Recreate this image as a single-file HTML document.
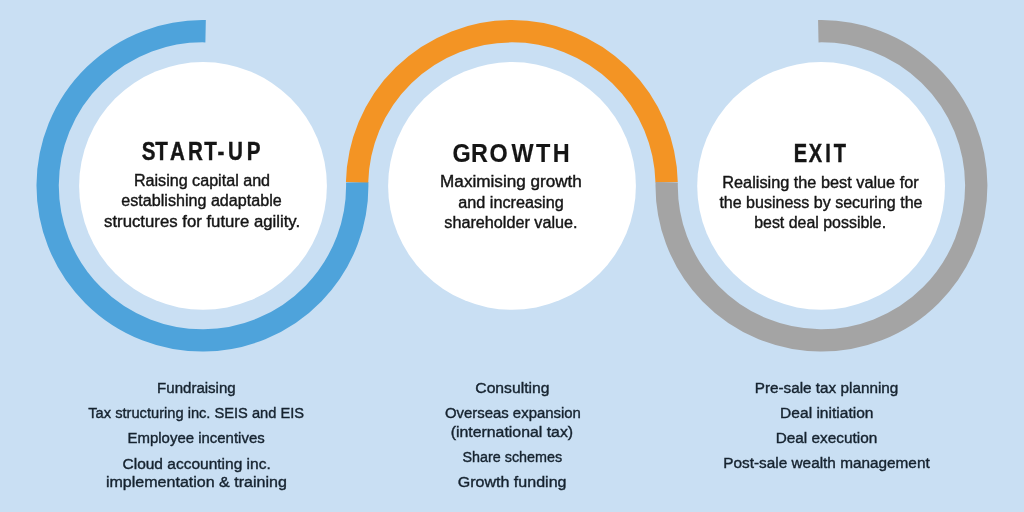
<!DOCTYPE html>
<html lang="en">
<head>
<meta charset="utf-8">
<title>Business lifecycle</title>
<style>
html,body{margin:0;padding:0;}
body{width:1024px;height:512px;overflow:hidden;background:#c9dff3;font-family:"Liberation Sans",sans-serif;}
svg{display:block;}
text{font-family:"Liberation Sans",sans-serif;}
</style>
</head>
<body>
<svg width="1024" height="512" viewBox="0 0 1024 512">
<rect x="0" y="0" width="1024" height="512" fill="#c9dff3"/>
<path d="M205.60 31.23 A154.80 154.60 0 1 0 357.21 182.30" fill="none" stroke="#4ea3db" stroke-width="22.3"/>
<path d="M357.09 182.30 A154.80 154.60 0 0 1 666.61 182.30" fill="none" stroke="#f39424" stroke-width="22.3"/>
<path d="M666.69 182.30 A154.80 154.60 0 1 0 818.30 31.23" fill="none" stroke="#a4a4a4" stroke-width="22.3"/>
<circle cx="203.00" cy="185.90" r="123.90" fill="#ffffff"/>
<circle cx="512.00" cy="185.90" r="123.90" fill="#ffffff"/>
<circle cx="821.10" cy="185.90" r="123.90" fill="#ffffff"/>
<g style="filter:brightness(1)">
<text transform="translate(0 159.70) scale(0.8154 1)" x="173.94 190.46 208.51 230.47 250.37 266.72 279.76 302.60" y="0" font-size="25.3" font-weight="bold" fill="#151515" stroke="#151515" stroke-width="0.41">START-UP</text>
<text x="133.90" y="185.70" font-size="16" font-weight="normal" fill="#151515" stroke="#151515" stroke-width="0.4" textLength="136.20" lengthAdjust="spacingAndGlyphs">Raising capital and</text>
<text x="121.30" y="206.00" font-size="16" font-weight="normal" fill="#151515" stroke="#151515" stroke-width="0.4" textLength="160.40" lengthAdjust="spacingAndGlyphs">establishing adaptable</text>
<text x="104.10" y="226.70" font-size="16" font-weight="normal" fill="#151515" stroke="#151515" stroke-width="0.4" textLength="196.00" lengthAdjust="spacingAndGlyphs">structures for future agility.</text>
<text transform="translate(0 161.80) scale(0.9241 1)" x="489.60 509.74 529.60 553.57 580.12 598.25" y="0" font-size="25.3" font-weight="bold" fill="#151515" stroke="#151515" stroke-width="0.17">GROWTH</text>
<text x="440.10" y="187.20" font-size="16" font-weight="normal" fill="#151515" stroke="#151515" stroke-width="0.4" textLength="141.80" lengthAdjust="spacingAndGlyphs">Maximising growth</text>
<text x="458.30" y="207.50" font-size="16" font-weight="normal" fill="#151515" stroke="#151515" stroke-width="0.4" textLength="105.40" lengthAdjust="spacingAndGlyphs">and increasing</text>
<text x="444.30" y="228.30" font-size="16" font-weight="normal" fill="#151515" stroke="#151515" stroke-width="0.4" textLength="133.20" lengthAdjust="spacingAndGlyphs">shareholder value.</text>
<text transform="translate(0 161.80) scale(0.7912 1)" x="1003.08 1022.14 1043.12 1053.75" y="0" font-size="25.3" font-weight="bold" fill="#151515" stroke="#151515" stroke-width="0.46">EXIT</text>
<text x="722.30" y="187.50" font-size="16" font-weight="normal" fill="#151515" stroke="#151515" stroke-width="0.4" textLength="196.40" lengthAdjust="spacingAndGlyphs">Realising the best value for</text>
<text x="719.40" y="207.60" font-size="16" font-weight="normal" fill="#151515" stroke="#151515" stroke-width="0.4" textLength="203.10" lengthAdjust="spacingAndGlyphs">the business by securing the</text>
<text x="754.20" y="228.30" font-size="16" font-weight="normal" fill="#151515" stroke="#151515" stroke-width="0.4" textLength="131.90" lengthAdjust="spacingAndGlyphs">best deal possible.</text>
<text x="157.10" y="393.20" font-size="15.4" font-weight="normal" fill="#16232f" stroke="#16232f" stroke-width="0.4" textLength="78.60" lengthAdjust="spacingAndGlyphs">Fundraising</text>
<text x="88.30" y="417.80" font-size="15.4" font-weight="normal" fill="#16232f" stroke="#16232f" stroke-width="0.4" textLength="215.80" lengthAdjust="spacingAndGlyphs">Tax structuring inc. SEIS and EIS</text>
<text x="127.50" y="442.90" font-size="15.4" font-weight="normal" fill="#16232f" stroke="#16232f" stroke-width="0.4" textLength="137.20" lengthAdjust="spacingAndGlyphs">Employee incentives</text>
<text x="122.50" y="468.50" font-size="15.4" font-weight="normal" fill="#16232f" stroke="#16232f" stroke-width="0.4" textLength="148.20" lengthAdjust="spacingAndGlyphs">Cloud accounting inc.</text>
<text x="105.90" y="487.20" font-size="15.4" font-weight="normal" fill="#16232f" stroke="#16232f" stroke-width="0.4" textLength="181.00" lengthAdjust="spacingAndGlyphs">implementation &amp; training</text>
<text x="475.30" y="393.20" font-size="15.4" font-weight="normal" fill="#16232f" stroke="#16232f" stroke-width="0.4" textLength="74.20" lengthAdjust="spacingAndGlyphs">Consulting</text>
<text x="444.90" y="417.70" font-size="15.4" font-weight="normal" fill="#16232f" stroke="#16232f" stroke-width="0.4" textLength="136.00" lengthAdjust="spacingAndGlyphs">Overseas expansion</text>
<text x="450.70" y="436.60" font-size="15.4" font-weight="normal" fill="#16232f" stroke="#16232f" stroke-width="0.4" textLength="122.40" lengthAdjust="spacingAndGlyphs">(international tax)</text>
<text x="462.50" y="462.00" font-size="15.4" font-weight="normal" fill="#16232f" stroke="#16232f" stroke-width="0.4" textLength="99.60" lengthAdjust="spacingAndGlyphs">Share schemes</text>
<text x="457.70" y="486.60" font-size="15.4" font-weight="normal" fill="#16232f" stroke="#16232f" stroke-width="0.4" textLength="108.80" lengthAdjust="spacingAndGlyphs">Growth funding</text>
<text x="754.70" y="393.10" font-size="15.4" font-weight="normal" fill="#16232f" stroke="#16232f" stroke-width="0.4" textLength="143.60" lengthAdjust="spacingAndGlyphs">Pre-sale tax planning</text>
<text x="780.10" y="418.00" font-size="15.4" font-weight="normal" fill="#16232f" stroke="#16232f" stroke-width="0.4" textLength="93.40" lengthAdjust="spacingAndGlyphs">Deal initiation</text>
<text x="775.70" y="442.60" font-size="15.4" font-weight="normal" fill="#16232f" stroke="#16232f" stroke-width="0.4" textLength="101.60" lengthAdjust="spacingAndGlyphs">Deal execution</text>
<text x="723.30" y="468.00" font-size="15.4" font-weight="normal" fill="#16232f" stroke="#16232f" stroke-width="0.4" textLength="206.40" lengthAdjust="spacingAndGlyphs">Post-sale wealth management</text>
</g>
</svg>
</body>
</html>
